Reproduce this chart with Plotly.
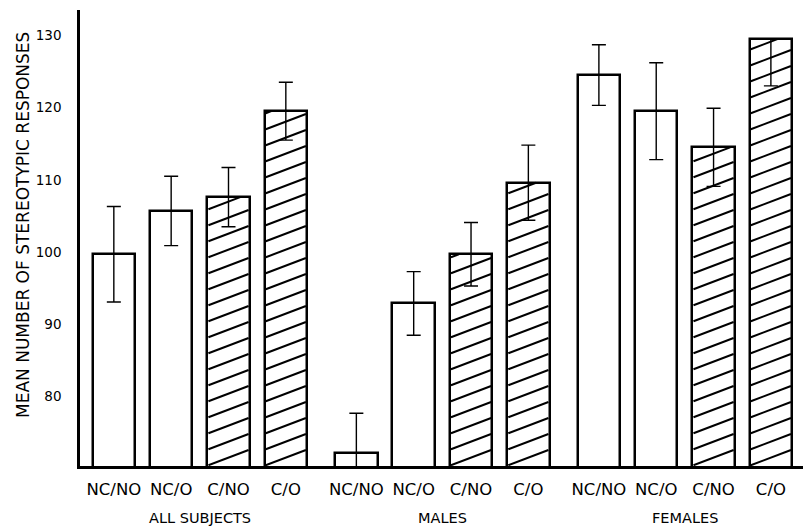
import plotly.graph_objects as go

# ---- data ----
groups = ["ALL SUBJECTS", "MALES", "FEMALES"]
conditions = ["NC/NO", "NC/O", "C/NO", "C/O"]
hatched = [False, False, True, True]

all_means = [99.7, 105.7, 107.6, 119.5]
all_err_plus = [6.6, 4.8, 4.1, 4.0]
all_err_minus = [6.6, 4.8, 4.1, 4.0]

male_means = [72.2, 92.9, 99.7, 109.6]
male_err_plus = [5.5, 4.4, 4.4, 5.2]
male_err_minus = [5.5, 4.4, 4.4, 5.2]

female_means = [124.5, 119.5, 114.5, 129.5]
female_err_plus = [4.2, 6.7, 5.4, 0.0]
female_err_minus = [4.2, 6.7, 5.4, 6.5]

y_ticks = [80, 90, 100, 110, 120, 130]

# ---- layout constants ----
Y_MIN, Y_MAX = 70.4, 133.5
GROUP_STEP = 4.23
BAR_W = 0.74
X_MIN, X_MAX = -0.59, 12.02
W, H = 803, 529
ML, MR, MT, MB = 80, 0, 10, 63

means = [all_means, male_means, female_means]
eplus = [all_err_plus, male_err_plus, female_err_plus]
eminus = [all_err_minus, male_err_minus, female_err_minus]

xs, ys, ep, em, labels = [], [], [], [], []
for g in range(len(groups)):
    for i in range(len(conditions)):
        xs.append(g * GROUP_STEP + i)
        ys.append(means[g][i])
        ep.append(eplus[g][i])
        em.append(eminus[g][i])
        labels.append(conditions[i])

fig = go.Figure()
fig.add_trace(go.Bar(
    x=xs, y=ys, width=BAR_W,
    marker=dict(color="white", line=dict(color="black", width=2.5)),
    error_y=dict(type="data", symmetric=False, array=ep, arrayminus=em,
                 color="black", thickness=1.4, width=7),
    showlegend=False, hoverinfo="skip",
))

# ---- hatching for the C/NO and C/O bars ----
px_x = (W - ML - MR) / (X_MAX - X_MIN)
px_y = (H - MT - MB) / (Y_MAX - Y_MIN)
slope = 0.38 * px_x / px_y        # data-units of y per data-unit of x
spacing = 16.0 / px_y             # vertical distance between hatch lines
inset = 0.02
hx, hy = [], []
for g in range(len(groups)):
    for i in range(len(conditions)):
        if not hatched[i]:
            continue
        cx = g * GROUP_STEP + i
        top = means[g][i]
        xl, xr = cx - BAR_W / 2 + inset, cx + BAR_W / 2 - inset
        w = xr - xl
        y0 = Y_MIN - slope * w
        while y0 < top:
            xs0 = max(xl, xl + (Y_MIN - y0) / slope)
            xe0 = min(xr, xl + (top - y0) / slope)
            if xe0 > xs0:
                hx += [xs0, xe0, None]
                hy += [y0 + slope * (xs0 - xl), y0 + slope * (xe0 - xl), None]
            y0 += spacing
fig.add_trace(go.Scatter(x=hx, y=hy, mode="lines",
                         line=dict(color="black", width=2),
                         showlegend=False, hoverinfo="skip"))

FONT = "DejaVu Sans"
for g, name in enumerate(groups):
    fig.add_annotation(x=g * GROUP_STEP + 1.5, y=0, xref="x", yref="paper",
                       text=name, showarrow=False, yanchor="top", yshift=-42,
                       font=dict(family=FONT, size=14.5, color="black"))

fig.add_annotation(x=0, y=(H - MB - 225) / (H - MT - MB), xref="paper", yref="paper",
                   text="MEAN NUMBER OF STEREOTYPIC RESPONSES", textangle=-90,
                   showarrow=False, xanchor="center", yanchor="middle", xshift=-57,
                   font=dict(family=FONT, size=17, color="black"))

fig.update_layout(
    width=W, height=H,
    margin=dict(l=ML, r=MR, t=MT, b=MB),
    paper_bgcolor="white", plot_bgcolor="white",
    font=dict(family=FONT, color="black"),
    bargap=0,
)
fig.update_xaxes(range=[X_MIN, X_MAX], tickvals=xs, ticktext=labels,
                 showline=True, linecolor="black", linewidth=2.5,
                 showgrid=False, zeroline=False, ticks="", ticklabelstandoff=6,
                 tickfont=dict(family=FONT, size=16.5, color="black"))
fig.update_yaxes(range=[Y_MIN, Y_MAX], tickvals=y_ticks,
                 showline=True, linecolor="black", linewidth=2.5,
                 showgrid=False, zeroline=False, ticks="", ticklabelstandoff=13,
                 tickfont=dict(family=FONT, size=13.5, color="black"))

fig.write_html("out.html", config={"displayModeBar": False},
               post_script="document.body.style.margin='0';document.body.style.padding='0';")
